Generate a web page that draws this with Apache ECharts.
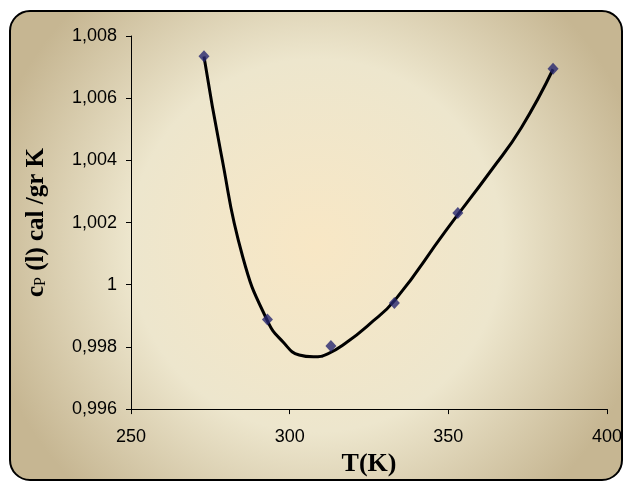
<!DOCTYPE html>
<html>
<head>
<meta charset="utf-8">
<script src="https://cdn.jsdelivr.net/npm/echarts@6/dist/echarts.min.js"></script>
<style>
  html, body { margin: 0; padding: 0; background: #fff; }
  #chart { width: 625px; height: 482px; }
</style>
</head>
<body>
<div id="chart"></div>
<script>
// measured points T (K) and cp (cal/gr K)
var temps = [273, 293, 313, 333, 353, 383];
var cpValues = [1.00735, 0.99888, 0.99803, 0.99941, 1.00231, 1.00695];

// trend curve
var trendT = [273, 278.4, 285.2, 293, 298, 303, 307.5, 312, 318, 325, 333.3, 349, 363.6, 373, 383];
var trendCp = [1.00734, 1.00421, 1.0009, 0.99884, 0.99815, 0.99774, 0.99768, 0.99778, 0.99815,
               0.99872, 0.99952, 1.00171, 1.00369, 1.00505, 1.00693];

var xTicks = [250, 400, 50];          // min, max, step
var yTicks = [0.996, 1.008, 0.002];

function pairs(xs, ys) {
	var out = [];
	for (var i = 0; i < xs.length; i++) {
		out.push([xs[i], ys[i]]);
	}
	return out;
}

function commaLabel(v) {
	return String(Number(v.toFixed(3))).replace('.', ',');
}

var myChart = echarts.init(document.getElementById('chart'));

var chartOption = {
	animation: false,
	graphic: [{
		type: 'rect',
		z: -100,
		silent: true,
		shape: { x: 10, y: 11, width: 612, height: 469, r: 20 },
		style: {
			fill: new echarts.graphic.RadialGradient(0.5, 0.5, 0.72, [
				{ offset: 0, color: '#f8e7c5' },
				{ offset: 0.55, color: '#ede6cd' },
				{ offset: 1, color: '#c6b692' }
			]),
			stroke: '#000',
			lineWidth: 2
		}
	}],
	grid: { left: 131, right: 16, top: 36, bottom: 63 },
	xAxis: {
		type: 'value',
		min: xTicks[0],
		max: xTicks[1],
		interval: xTicks[2],
		name: 'T(K)',
		nameLocation: 'middle',
		nameGap: 26,
		nameTextStyle: { fontFamily: 'Liberation Serif', fontWeight: 'bold', fontSize: 26, color: '#000' },
		axisLine: { lineStyle: { color: '#000', width: 1 } },
		axisTick: { length: 5, lineStyle: { color: '#000' } },
		axisLabel: { margin: 19, fontFamily: 'Liberation Sans', fontSize: 18, color: '#000' },
		splitLine: { show: false }
	},
	yAxis: {
		type: 'value',
		min: yTicks[0],
		max: yTicks[1],
		interval: yTicks[2],
		name: '{n|c}{p|P}{n| (l) cal /gr K}',
		nameLocation: 'middle',
		nameGap: 82,
		nameTextStyle: {
			rich: {
				n: { fontFamily: 'Liberation Serif', fontWeight: 'bold', fontSize: 25, color: '#000' },
				p: { fontFamily: 'Liberation Serif', fontSize: 16, color: '#000', verticalAlign: 'bottom' }
			}
		},
		axisLine: { lineStyle: { color: '#000', width: 1 } },
		axisTick: { length: 5, lineStyle: { color: '#000' } },
		axisLabel: { margin: 14, fontFamily: 'Liberation Sans', fontSize: 18, color: '#000', formatter: commaLabel },
		splitLine: { show: false }
	},
	series: [
		{
			type: 'line',
			data: pairs(trendT, trendCp),
			smooth: 0.5,
			showSymbol: false,
			lineStyle: { color: '#000', width: 3 },
			z: 2
		},
		{
			type: 'scatter',
			data: pairs(temps, cpValues),
			symbol: 'diamond',
			symbolSize: [11, 12],
			itemStyle: { color: '#27276f' },
			z: 3
		}
	]
};

myChart.setOption(chartOption);
</script>
</body>
</html>
